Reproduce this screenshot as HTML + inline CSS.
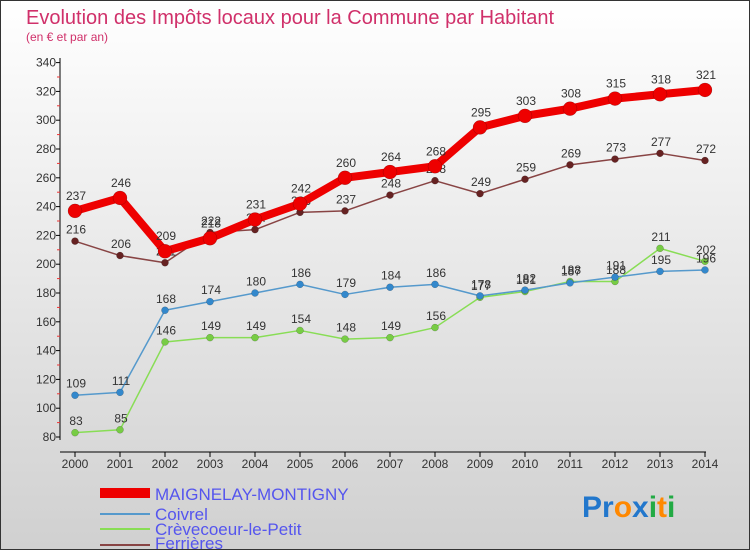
<!DOCTYPE html>
<html><head><meta charset="utf-8"><style>
body{margin:0;width:750px;height:550px;overflow:hidden;font-family:"Liberation Sans",sans-serif}
svg{display:block}
</style></head><body>
<svg width="750" height="550" viewBox="0 0 750 550">
<defs><linearGradient id="bg" x1="0" y1="0" x2="0" y2="1"><stop offset="0" stop-color="#ffffff"/><stop offset="1" stop-color="#d0d0d0"/></linearGradient></defs>
<rect x="0.5" y="0.5" width="749" height="549" fill="url(#bg)" stroke="#333"/>
<text x="26" y="24" font-size="20" fill="#d0306a">Evolution des Impôts locaux pour la Commune par Habitant</text>
<text x="26" y="41" font-size="12" fill="#d0306a">(en € et par an)</text>
<g id="axes"></g>
<g id="series"></g>
<g>
<line x1="100" y1="493" x2="150" y2="493" stroke="#ee0000" stroke-width="10"/>
<text x="155" y="500" font-size="17" fill="#5555ee">MAIGNELAY-MONTIGNY</text>
<line x1="100" y1="514" x2="150" y2="514" stroke="#5599cc" stroke-width="2"/>
<text x="155" y="520" font-size="17" fill="#5555ee">Coivrel</text>
<line x1="100" y1="529" x2="150" y2="529" stroke="#88dd55" stroke-width="2"/>
<text x="155" y="535" font-size="17" fill="#5555ee">Crèvecoeur-le-Petit</text>
<line x1="100" y1="545" x2="150" y2="545" stroke="#884444" stroke-width="2"/>
<text x="155" y="549" font-size="17" fill="#5555ee">Ferrières</text>
</g>
<g font-size="30" font-weight="bold">
<text x="582" y="517"><tspan fill="#2277cc">Pr</tspan><tspan fill="#ff8800">o</tspan><tspan fill="#2277cc">x</tspan><tspan fill="#22aa44">i</tspan><tspan fill="#ff8800">t</tspan><tspan fill="#22aa44">i</tspan></text>
</g>
</svg>
<script>
const years=[2000,2001,2002,2003,2004,2005,2006,2007,2008,2009,2010,2011,2012,2013,2014];
const yTicks=[80,100,120,140,160,180,200,220,240,260,280,300,320,340];
const maignelay=[237,246,209,218,231,242,260,264,268,295,303,308,315,318,321];
const coivrel=[109,111,168,174,180,186,179,184,186,178,182,187,191,195,196];
const crevecoeur=[83,85,146,149,149,154,148,149,156,177,181,188,188,211,202];
const ferrieres=[216,206,201,222,224,236,237,248,258,249,259,269,273,277,272];
const NS="http://www.w3.org/2000/svg";
const xS=i=>75+i*45;
const yS=v=>437-(v-80)*1.44;
function mk(t,a,p){const e=document.createElementNS(NS,t);for(const k in a)e.setAttribute(k,a[k]);p.appendChild(e);return e;}
const ax=document.getElementById('axes');
const yl=mk('line',{x1:60,y1:58,x2:60,y2:440,stroke:'#000'},ax);


const xl=mk('line',{x1:60,y1:452,x2:706,y2:452,stroke:'#000'},ax);


yTicks.forEach(v=>{
 mk('line',{x1:56,y1:yS(v),x2:60,y2:yS(v),stroke:'#000'},ax);
 if(v<340) mk('line',{x1:57,y1:yS(v+10),x2:60,y2:yS(v+10),stroke:'#e33'},ax);
 const t=mk('text',{x:56,y:yS(v)+4,'font-size':12,'text-anchor':'end',fill:'#333'},ax);
 t.textContent=v;
 
 
});
years.forEach((y,i)=>{
 mk('line',{x1:xS(i),y1:452,x2:xS(i),y2:457,stroke:'#000'},ax);
 const t=mk('text',{x:xS(i),y:468,'font-size':12,'text-anchor':'middle',fill:'#333'},ax);
 t.textContent=y;
 
 
});
const sg=document.getElementById('series');
function draw(data,name,color,dot,w,r,fs){
 const g=mk('g',{},sg);
 
 
 const pl=mk('polyline',{points:data.map((v,i)=>xS(i)+','+yS(v)).join(' '),fill:'none',stroke:color,'stroke-width':w,'stroke-linejoin':'round'},g);
 
 
 data.forEach((v,i)=>{
  const c=mk('circle',{cx:xS(i),cy:yS(v),r:r,fill:dot,stroke:'rgba(0,0,0,0.3)','stroke-width':0.5},g);
  
  
  const t=mk('text',{x:xS(i)+1,y:yS(v)-r-4,'font-size':fs,'text-anchor':'middle',fill:'#333'},g);
  t.textContent=v;
  
  
 });
}
draw(crevecoeur,'crevecoeur','#88dd55','#77cc44',1.5,3.5,12);
draw(coivrel,'coivrel','#5599cc','#3388cc',1.5,3.5,12);
draw(ferrieres,'ferrieres','#884444','#662222',1.5,3.5,12);
draw(maignelay,'maignelay','#ee0000','#ee0000',8,7,12);
</script>
</body></html>
